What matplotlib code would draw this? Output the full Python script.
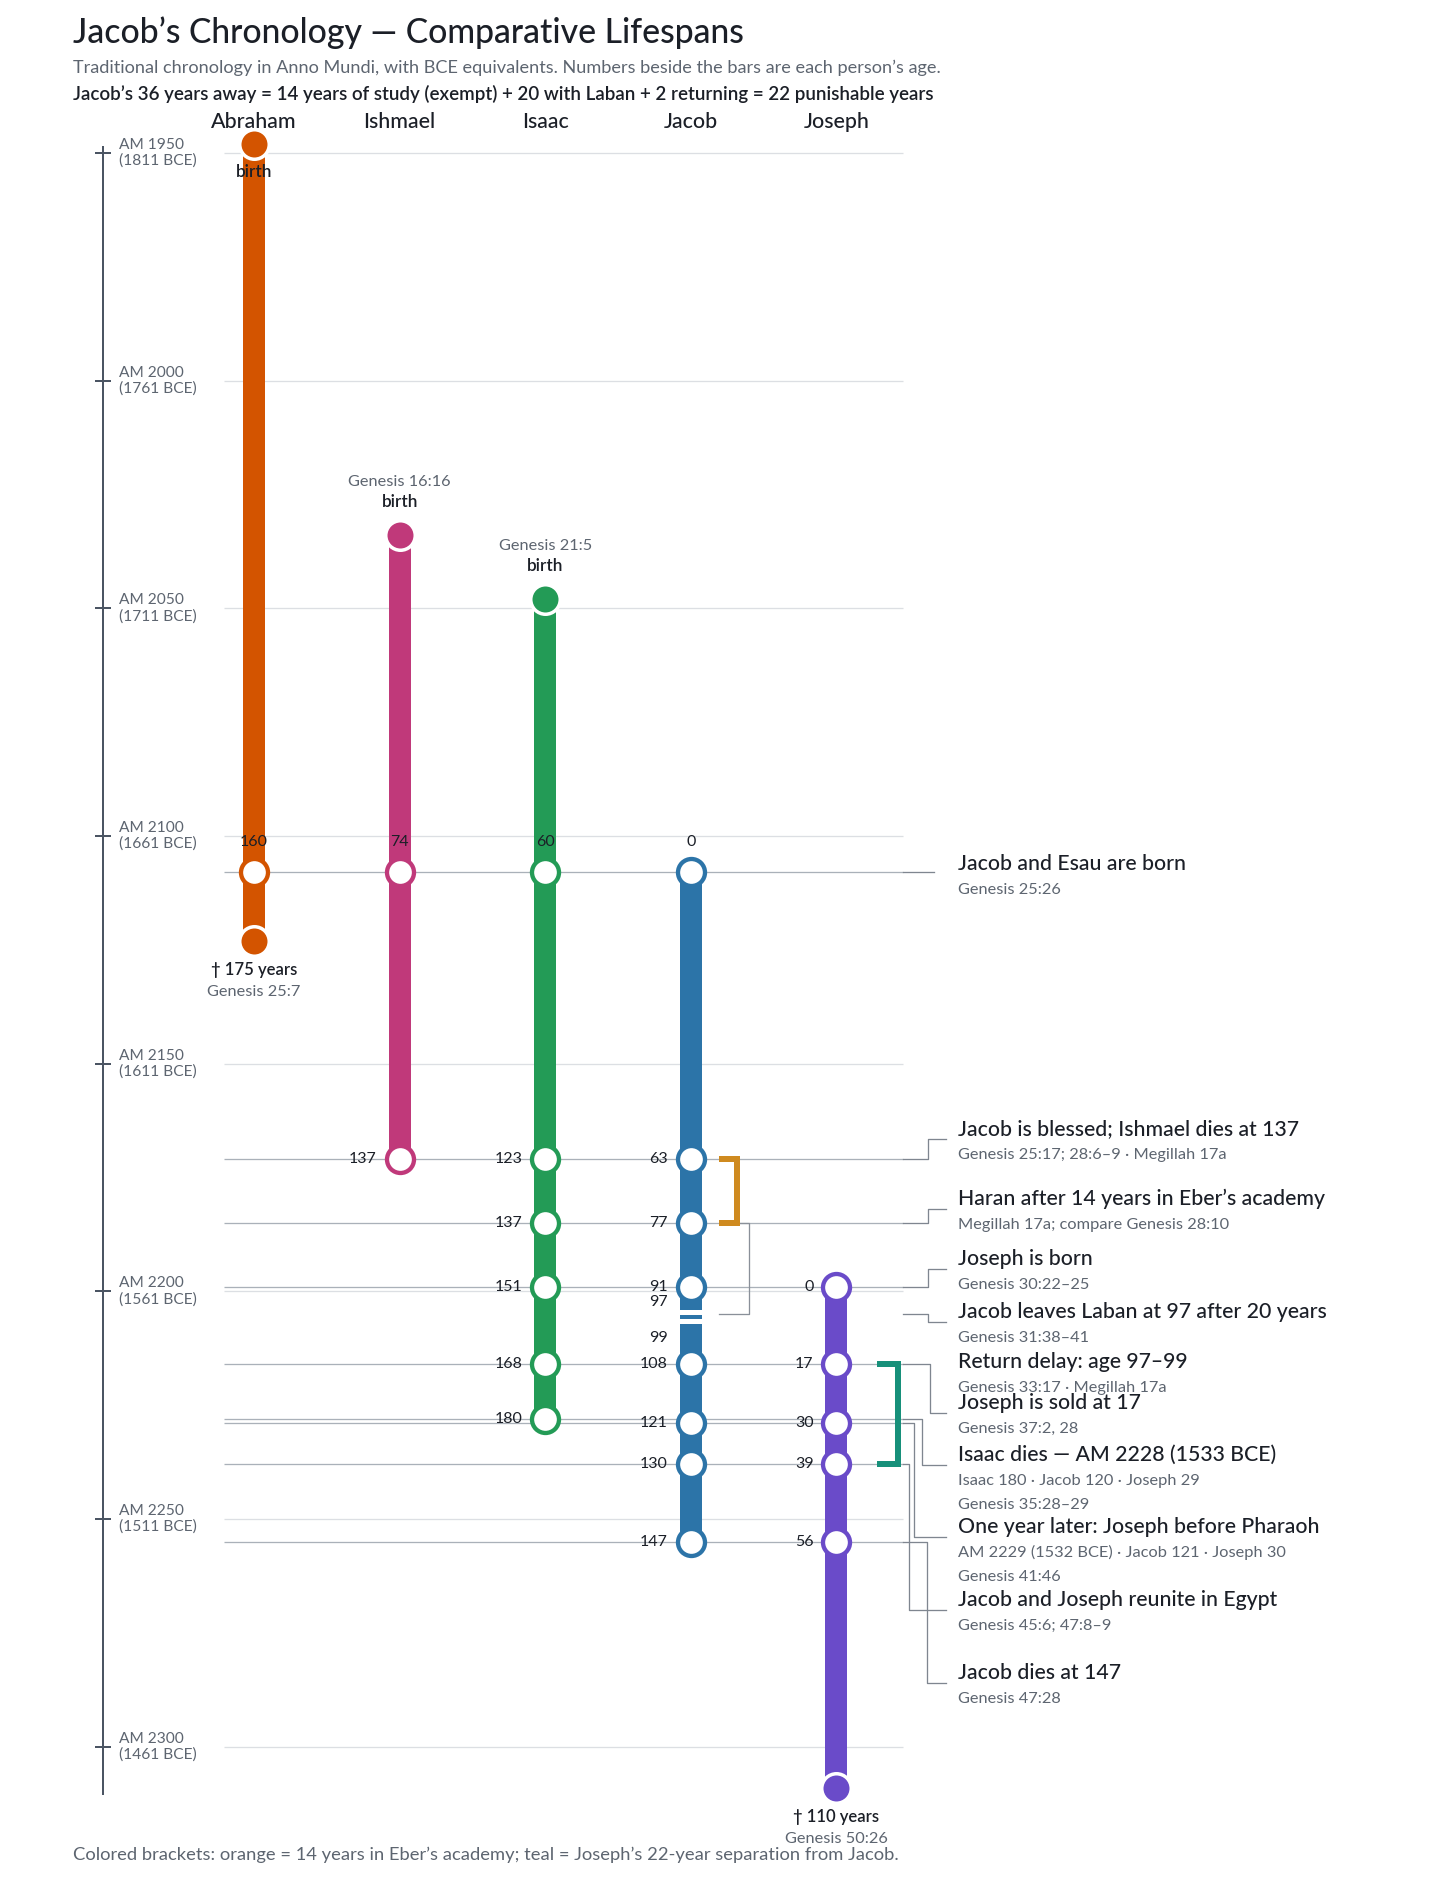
import numpy as np
import matplotlib.pyplot as plt

plt.rcParams['font.family'] = ['Lato', 'DejaVu Sans']

# ---- data ----
people = ["Abraham", "Ishmael", "Isaac", "Jacob", "Joseph"]
birth_am = [1948, 2034, 2048, 2108, 2199]
death_am = [2123, 2171, 2228, 2255, 2309]
colors = ["#D35400", "#C0397A", "#239B56", "#2C74A8", "#6A4BC9"]
birth_refs = [None, "Genesis 16:16", "Genesis 21:5", None, None]
death_refs = ["Genesis 25:7", None, None, None, "Genesis 50:26"]

# years that get a ring on the bars, and whose bars
event_am = [2108, 2171, 2185, 2199, 2216, 2228, 2229, 2238, 2255]
event_who = [
    ["Abraham", "Ishmael", "Isaac", "Jacob"],
    ["Ishmael", "Isaac", "Jacob"],
    ["Isaac", "Jacob"],
    ["Isaac", "Jacob", "Joseph"],
    ["Isaac", "Jacob", "Joseph"],
    ["Isaac"],
    ["Jacob", "Joseph"],
    ["Jacob", "Joseph"],
    ["Jacob", "Joseph"],
]

# return delay, age 97-99: drawn as a break in Jacob's bar
jacob_break_ages = [97, 99]
eber_am = [2171, 2185]        # orange bracket, 14 years of study
laban_am = [2185, 2205]       # thin bracket, 20 years with Laban
separation_am = [2216, 2238]  # teal bracket, Joseph away from Jacob

grid_am = np.arange(1950, 2301, 50)

note_titles = [
    "Jacob and Esau are born",
    "Jacob is blessed; Ishmael dies at 137",
    "Haran after 14 years in Eber\u2019s academy",
    "Joseph is born",
    "Jacob leaves Laban at 97 after 20 years",
    "Return delay: age 97\u201399",
    "Joseph is sold at 17",
    "Isaac dies \u2014 AM 2228 (1533 BCE)",
    "One year later: Joseph before Pharaoh",
    "Jacob and Joseph reunite in Egypt",
    "Jacob dies at 147",
]
note_subs = [
    ["Genesis 25:26"],
    ["Genesis 25:17; 28:6\u20139 \u00b7 Megillah 17a"],
    ["Megillah 17a; compare Genesis 28:10"],
    ["Genesis 30:22\u201325"],
    ["Genesis 31:38\u201341"],
    ["Genesis 33:17 \u00b7 Megillah 17a"],
    ["Genesis 37:2, 28"],
    ["Isaac 180 \u00b7 Jacob 120 \u00b7 Joseph 29", "Genesis 35:28\u201329"],
    ["AM 2229 (1532 BCE) \u00b7 Jacob 121 \u00b7 Joseph 30", "Genesis 41:46"],
    ["Genesis 45:6; 47:8\u20139"],
    ["Genesis 47:28"],
]
note_from_am = [2108, 2171, 2185, 2199, 2205, None, 2216, 2228, 2229, 2238, 2255]

# ---- layout (pixels) ----
W, H = 1456, 1880
PPY = 4.553          # pixels per year
Y0 = 153             # pixel row of AM 1950
PT = 0.72            # points per pixel at 100 dpi
note_anchor_px = [874, 1139, 1209, 1269, 1322, 1372, 1413, 1465, 1537, 1610, 1683]
note_elbow_x = [None, 928, 928, 928, 928, None, 930, 922, 914, 909, 927]
GRID_X0, GRID_X1 = 224, 903
NOTE_X = 958


def am_at(px):
    return 1950 + (px - Y0) / PPY


def yrs(px):
    return px / PPY


fig = plt.figure(figsize=(W / 100, H / 100), dpi=100)
ax = fig.add_axes([0, 0, 1, 1])
ax.set_xlim(0, W)
ax.set_ylim(am_at(H), am_at(0))
ax.axis('off')

col_x = {p: 254 + 145.6 * i for i, p in enumerate(people)}
birth_of = dict(zip(people, birth_am))
color_of = dict(zip(people, colors))

DARK = "#1b1f27"
GRAY = "#5d6570"

# titles
fig.text(73 / W, 1 - 43 / H, "Jacob\u2019s Chronology \u2014 Comparative Lifespans",
         fontsize=24.3, color=DARK, va='baseline', weight='medium')
fig.text(73 / W, 1 - 73 / H, "Traditional chronology in Anno Mundi, with BCE equivalents. "
         "Numbers beside the bars are each person\u2019s age.",
         fontsize=13.1, color=GRAY, va='baseline')
fig.text(73 / W, 1 - 100 / H, "Jacob\u2019s 36 years away = 14 years of study (exempt) + 20 with Laban "
         "+ 2 returning = 22 punishable years",
         fontsize=13.5, color=DARK, va='baseline', weight='semibold')
fig.text(73 / W, 1 - 1855 / H, "Colored brackets: orange = 14 years in Eber\u2019s academy; "
         "teal = Joseph\u2019s 22-year separation from Jacob.",
         fontsize=13.2, color=GRAY, va='center')

for p in people:
    ax.text(col_x[p], am_at(128), p, fontsize=15.4, color=DARK, ha='center',
            va='baseline', weight='medium')

# time axis
ax.plot([103, 103], [min(birth_am) + 0.5, max(death_am) + 1.6], color="#4b5563",
        lw=2 * PT, solid_capstyle='butt', zorder=2)
for g in grid_am:
    ax.plot([96, 110], [g, g], color="#4b5563", lw=2 * PT, zorder=2)
    ax.text(119, g, f"AM {g}\n({3761 - g} BCE)", fontsize=11.2, color=GRAY,
            va='center', ha='left', linespacing=1.15)
ax.hlines(grid_am, GRID_X0, GRID_X1, color="#dcdfe3", lw=1.3 * PT, zorder=1)

# event rows
ax.hlines(event_am, GRID_X0, GRID_X1, color="#aab1b9", lw=1.3 * PT, zorder=2)

# bars
BAR = 22 * PT
for p, b, d, c in zip(people, birth_am, death_am, colors):
    ax.plot([col_x[p], col_x[p]], [b, d], color=c, lw=BAR, solid_capstyle='butt', zorder=3)

# break in Jacob's bar
jx = col_x["Jacob"]
for a in jacob_break_ages:
    y = birth_of["Jacob"] + a - 0.5
    ax.plot([jx - 12, jx + 12], [y, y], color="white", lw=5 * PT, zorder=4,
            solid_capstyle='butt')

# birth / death dots where no event ring sits
ring_years = {p: set() for p in people}
for am, who in zip(event_am, event_who):
    for p in who:
        ring_years[p].add(am)

for p, b, d, c, bref, dref in zip(people, birth_am, death_am, colors, birth_refs, death_refs):
    x = col_x[p]
    if b not in ring_years[p]:
        ax.plot(x, b, 'o', ms=29.5 * PT, mfc=c, mec='white', mew=3.5 * PT, zorder=5)
        if bref is None:
            ax.text(x, b + yrs(28), "birth", fontsize=12.3, color=DARK, ha='center',
                    va='center', weight='semibold', zorder=6)
        else:
            ax.text(x, b - yrs(33), "birth", fontsize=12.3, color=DARK, ha='center',
                    va='center', weight='semibold', zorder=6)
            ax.text(x, b - yrs(53), bref, fontsize=11.8, color=GRAY, ha='center',
                    va='center', zorder=6)
    if d not in ring_years[p]:
        ax.plot(x, d, 'o', ms=29.5 * PT, mfc=c, mec='white', mew=3.5 * PT, zorder=5)
        ax.text(x, d + yrs(29), f"\u2020 {d - b} years", fontsize=12, color=DARK,
                ha='center', va='center', weight='semibold', zorder=6)
        ax.text(x, d + yrs(51), dref, fontsize=11.8, color=GRAY, ha='center',
                va='center', zorder=6)

# rings and ages
for am, who in zip(event_am, event_who):
    for p in who:
        x = col_x[p]
        ax.plot(x, am, 'o', ms=27 * PT, mfc='white', mec=color_of[p], mew=4.3 * PT, zorder=5)
        age = am - birth_of[p]
        if am == event_am[0]:
            ax.text(x, am - yrs(30), str(age), fontsize=11.5, color=DARK, ha='center',
                    va='center', zorder=6)
        else:
            ax.text(x - 23, am, str(age), fontsize=11.5, color=DARK, ha='right',
                    va='center', zorder=6)

# ages at the break
ax.text(jx - 23, birth_of["Jacob"] + jacob_break_ages[0] - yrs(12), str(jacob_break_ages[0]),
        fontsize=11.5, color=DARK, ha='right', va='center', zorder=6)
ax.text(jx - 23, birth_of["Jacob"] + jacob_break_ages[1] + yrs(15), str(jacob_break_ages[1]),
        fontsize=11.5, color=DARK, ha='right', va='center', zorder=6)

# brackets
ax.plot([719, 737, 737, 719], [eber_am[0], eber_am[0], eber_am[1], eber_am[1]],
        color="#CF8A1F", lw=6 * PT, solid_joinstyle='miter', solid_capstyle='butt', zorder=4)
ax.plot([877, 898, 898, 877], [separation_am[0], separation_am[0], separation_am[1], separation_am[1]],
        color="#17907A", lw=6 * PT, solid_joinstyle='miter', solid_capstyle='butt', zorder=4)
ax.plot([740, 749, 749, 719], [laban_am[0], laban_am[0], laban_am[1], laban_am[1]],
        color="#8a9099", lw=1.3 * PT, zorder=3)

# notes on the right
for title, subs, src, anc, ex in zip(note_titles, note_subs, note_from_am,
                                    note_anchor_px, note_elbow_x):
    ay = am_at(anc)
    if src is not None:
        if ex is None:
            ax.plot([GRID_X1, 934], [src, src], color="#7f8690", lw=1.3 * PT, zorder=3)
        else:
            ax.plot([GRID_X1, ex, ex, 946], [src, src, ay, ay], color="#7f8690",
                    lw=1.3 * PT, zorder=3)
    ax.text(NOTE_X, ay - yrs(4), title, fontsize=15.3, color=DARK, va='baseline',
            weight='medium', zorder=6)
    for k, s in enumerate(subs):
        ax.text(NOTE_X, ay + yrs(20 + 24 * k), s, fontsize=11.8, color=GRAY,
                va='baseline', zorder=6)

fig.savefig("out.png", dpi=100, facecolor='white')
